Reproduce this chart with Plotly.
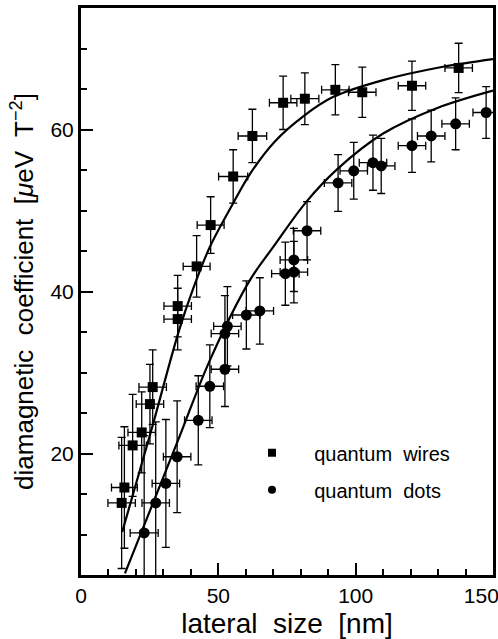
import plotly.graph_objects as go

# quantum wires (squares)
wire_x = [14.8, 15.8, 18.8, 22.1, 25.1, 26.1, 35.2, 35.2, 42.1, 47.2, 55.4, 62.4,
          73.6, 81.5, 92.6, 102.4, 120.5, 137.5]
wire_y = [13.9, 15.8, 21.0, 22.6, 26.1, 28.2, 36.6, 38.2, 43.1, 48.2, 54.2, 59.2,
          63.3, 63.8, 64.9, 64.6, 65.4, 67.6]
wire_dy = [8.1, 7.5, 6.3, 5.0, 4.9, 4.6, 3.8, 3.8, 3.8, 3.5, 3.3, 3.3,
           3.3, 3.2, 3.1, 3.1, 3.05, 3.05]
wire_dx = [5.0, 4.7, 5.0, 5.0, 5.0, 5.0, 5.0, 5.0, 4.9, 4.9, 5.3, 5.2,
           5.0, 5.1, 5.0, 5.0, 5.0, 5.0]

# quantum dots (circles)
dot_x = [23.0, 27.2, 30.9, 35.0, 42.7, 46.9, 52.4, 52.4, 53.3, 60.2, 65.1, 74.4,
         77.5, 77.5, 82.3, 93.6, 99.3, 106.3, 109.3, 120.5, 127.5, 136.4, 147.5]
dot_y = [10.2, 13.9, 16.3, 19.6, 24.1, 28.3, 30.4, 34.8, 35.7, 37.1, 37.6, 42.2,
         42.4, 43.9, 47.5, 53.4, 54.9, 55.9, 55.5, 58.0, 59.2, 60.7, 62.1]
dot_dy = [12.0, 10.0, 7.9, 6.9, 5.5, 5.1, 4.6, 4.7, 4.9, 4.2, 4.1, 3.9,
          3.8, 3.9, 3.6, 3.5, 3.5, 3.4, 3.4, 3.3, 3.2, 3.2, 3.2]
dot_dx = [5.1, 5.0, 5.0, 5.0, 5.0, 5.0, 5.0, 5.0, 5.0, 5.0, 5.0, 5.0,
          5.0, 5.0, 5.0, 5.0, 5.0, 5.0, 5.0, 5.0, 5.0, 5.0, 4.8]

# fitted curves
wire_fit_x = [15.0, 25.7, 35.7, 41.0, 46.9, 55.4, 61.5, 70.5, 80.8, 91.7, 110.0, 131.8, 150.0]
wire_fit_y = [10.3, 23.0, 35.2, 40.5, 45.5, 50.9, 54.5, 58.5, 61.6, 64.0, 66.1, 67.75, 68.7]
dot_fit_x = [16.0, 26.0, 36.0, 46.9, 61.5, 70.0, 82.1, 93.6, 110.0, 129.3, 150.0]
dot_fit_y = [5.2, 13.7, 22.2, 31.5, 41.4, 45.5, 51.1, 55.2, 59.5, 62.6, 64.8]

# axis tick labels ("150" sits pushed left against the frame in the original)
x_tickvals = [0, 50, 100, 150]
x_ticktext = ["0", "50", "100", "150\u2007\u2007"]

FONT = "Liberation Sans"
err = dict(type="data", color="black", thickness=1.3, width=4)

fig = go.Figure()

fig.add_trace(go.Scatter(x=wire_fit_x, y=wire_fit_y, mode="lines", line_shape="spline",
                         line=dict(color="black", width=2.2), showlegend=False))
fig.add_trace(go.Scatter(x=dot_fit_x, y=dot_fit_y, mode="lines", line_shape="spline",
                         line=dict(color="black", width=2.2), showlegend=False))

fig.add_trace(go.Scatter(x=wire_x, y=wire_y, mode="markers",
                         marker=dict(symbol="square", size=10, color="black"),
                         error_y=dict(array=wire_dy, **err),
                         error_x=dict(array=wire_dx, **err),
                         showlegend=False))
fig.add_trace(go.Scatter(x=dot_x, y=dot_y, mode="markers",
                         marker=dict(symbol="circle", size=11, color="black"),
                         error_y=dict(array=dot_dy, **err),
                         error_x=dict(array=dot_dx, **err),
                         showlegend=False))

# legend entries
pad = "\u00a0" * 4
fig.add_trace(go.Scatter(x=[None], y=[None], mode="markers", name=pad + "quantum  wires",
                         marker=dict(symbol="square", size=8, color="black"),
                         legendgroup="a"))
fig.add_trace(go.Scatter(x=[None], y=[None], mode="markers", name=pad + "quantum  dots",
                         marker=dict(symbol="circle", size=8, color="black"),
                         legendgroup="b"))

axis_common = dict(showline=True, mirror=True, linecolor="black", linewidth=3,
                   showgrid=False, zeroline=False, ticks="inside", ticklen=12,
                   tickwidth=2, tickcolor="black", automargin=False,
                   tickfont=dict(family=FONT, size=21, color="black"))

fig.update_xaxes(range=[0, 150], tickmode="array", tickvals=x_tickvals,
                 ticktext=x_ticktext, ticklabeloverflow="allow",
                 minor=dict(dtick=10, tick0=0, ticks="inside", ticklen=6, tickwidth=1.5,
                            tickcolor="black"),
                 title=dict(text="lateral  size  [nm]", standoff=8,
                            font=dict(family=FONT, size=28, color="black")),
                 **axis_common)
fig.update_yaxes(range=[5, 75], dtick=20, tick0=0,
                 minor=dict(dtick=5, ticks="inside", ticklen=6, tickwidth=1.5,
                            tickcolor="black"),
                 title=dict(text="diamagnetic  coefficient  [<i>μ</i>eV  T<sup>−2</sup>]",
                            standoff=10, font=dict(family=FONT, size=26, color="black")),
                 **axis_common)

fig.update_layout(
    autosize=True,
    margin=dict(l=81, r=5, t=8, b=64),
    plot_bgcolor="white", paper_bgcolor="white",
    hovermode=False,
    legend=dict(x=0.415, y=0.25, xanchor="left", yanchor="top",
                bgcolor="rgba(0,0,0,0)", tracegroupgap=8, itemwidth=30,
                font=dict(family=FONT, size=20, color="black")),
)

# fill the browser window exactly: no page margin, no scrollbars
post = ("document.body.style.margin='0';"
        "document.body.style.overflow='hidden';"
        "Plotly.Plots.resize(document.getElementById('{plot_id}'));")
fig.write_html("out.html", config={"displayModeBar": False, "responsive": True},
               default_width="100vw", default_height="100vh", post_script=post)
